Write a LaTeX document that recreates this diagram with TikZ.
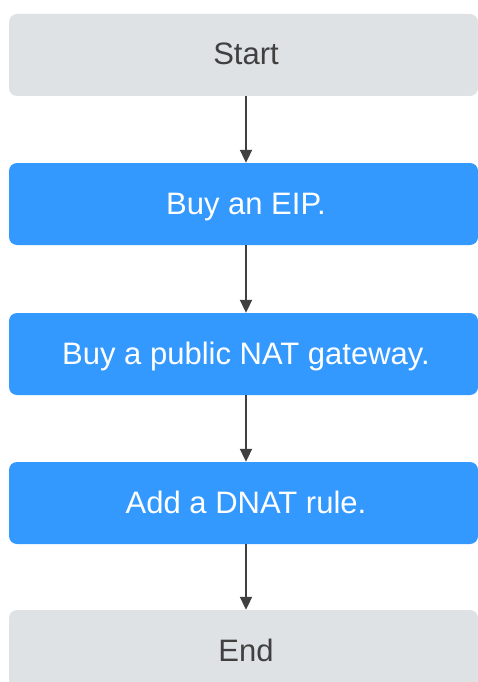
\documentclass[tikz,border=0pt]{standalone}
\usepackage{fontspec}
\setmainfont{Liberation Sans}
\usetikzlibrary{arrows.meta}
\definecolor{boxgray}{RGB}{223,226,229}
\definecolor{boxblue}{RGB}{51,153,255}
\definecolor{inkgray}{RGB}{64,64,64}
\tikzset{
  flowbox/.style={rectangle, rounded corners=8pt, minimum width=469pt,
    minimum height=82pt, inner sep=0pt, text height=20pt, text depth=0pt,
    font=\fontsize{31}{35}\selectfont},
  termbox/.style={flowbox, fill=boxgray, text=inkgray},
  actbox/.style={flowbox, fill=boxblue, text=white},
  flowarrow/.style={draw=inkgray, line width=2pt,
    -{Triangle[length=13pt,width=12pt]}}
}
\begin{document}
\begin{tikzpicture}[x=1pt,y=-1pt]
  \useasboundingbox (0,0) rectangle (478,682);
  \clip (0,0) rectangle (478,682);
  % boxes span x = 9 .. 478
  \node[termbox] (start) at (243.5,55)  {\hspace*{5pt}Start};
  \node[actbox]  (eip)   at (243.5,204) {\hspace*{5pt}Buy an EIP.};
  \node[actbox]  (nat)   at (243.5,354) {\hspace*{5pt}Buy a public NAT gateway.};
  \node[actbox]  (dnat)  at (243.5,503) {\hspace*{5pt}Add a DNAT rule.};
  \node[termbox] (end)   at (243.5,651) {\hspace*{5pt}End};
  % arrows run down the column x = 246
  \coordinate (col) at (246,0);
  \draw[flowarrow] (start.south -| col) -- (eip.north -| col);
  \draw[flowarrow] (eip.south -| col) -- (nat.north -| col);
  \draw[flowarrow] (nat.south -| col) -- (dnat.north -| col);
  \draw[flowarrow] (dnat.south -| col) -- (end.north -| col);
\end{tikzpicture}
\end{document}
